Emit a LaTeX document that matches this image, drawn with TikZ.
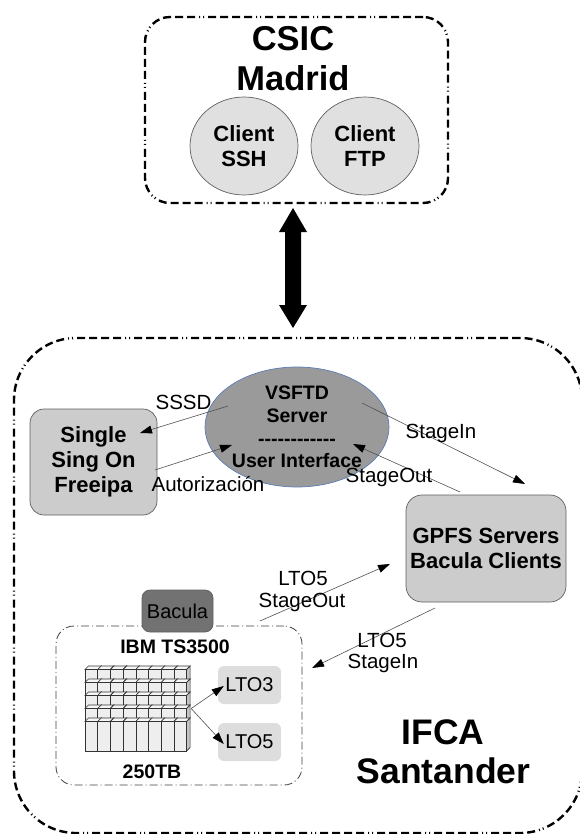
\documentclass[tikz,border=0pt]{standalone}
\usepackage{fontspec}
\setmainfont{Liberation Sans}
\usetikzlibrary{arrows.meta,calc,shapes.geometric}

\definecolor{clientfill}{HTML}{E0E0E0}
\definecolor{boxfill}{HTML}{CCCCCC}
\definecolor{serverfill}{HTML}{9A9A9A}
\definecolor{serveredge}{HTML}{5A7DB5}
\definecolor{baculafill}{HTML}{727272}
\definecolor{ltofill}{HTML}{DDDDDD}
\definecolor{edgegray}{HTML}{5F5F5F}
\definecolor{linegray}{HTML}{505050}
\definecolor{tapefront}{HTML}{EEEEEE}
\definecolor{tapetop}{HTML}{F6F6F6}
\definecolor{tapeside}{HTML}{C4C4C4}

% a hyphen that never merges into an en or em dash
\newcommand\hy{-\kern0pt}

\tikzset{
  regionbox/.style={draw=black, line width=2.4pt, rounded corners=#1,
    dash pattern=on 8pt off 4pt on 8pt off 4pt on 8pt off 4pt on 8pt off 4pt on 1pt off 3pt on 1pt off 4pt,
    inner sep=0pt},
  devicebox/.style={draw=black!75, line width=0.8pt, rounded corners=18pt,
    dash pattern=on 8pt off 3pt on 1pt off 3pt, inner sep=0pt},
  clientell/.style={ellipse, draw=edgegray, line width=0.7pt, fill=clientfill, inner sep=0pt,
    minimum width=108pt, minimum height=98pt, align=center,
    font=\bfseries\fontsize{22}{25}\selectfont},
  greybox/.style={draw=edgegray, line width=0.7pt, fill=boxfill, rounded corners=16pt,
    inner sep=0pt, align=center, font=\bfseries\fontsize{22}{25}\selectfont},
  serverell/.style={ellipse, draw=serveredge, line width=0.7pt, fill=serverfill, inner sep=0pt,
    minimum width=168pt, minimum height=120pt, align=center,
    font=\bfseries\fontsize{19.5}{22.7}\selectfont},
  ltobox/.style={fill=ltofill, rounded corners=6pt, inner sep=0pt,
    minimum width=63pt, minimum height=38pt, font=\fontsize{20}{24}\selectfont},
  title/.style={anchor=base, inner sep=0pt, font=\bfseries\fontsize{34.5}{40}\selectfont},
  subtitle/.style={anchor=base, inner sep=0pt, font=\bfseries\fontsize{19.5}{23}\selectfont},
  flowlabel/.style={anchor=base, inner sep=0pt, font=\fontsize{20.5}{23}\selectfont},
  conn/.style={draw=linegray, line width=0.6pt,
    -{Triangle[length=12pt,width=8pt,color=black]}},
  cellfront/.style={fill=tapefront, draw=black!80, line width=0.6pt},
  celltop/.style={fill=tapetop, draw=black!80, line width=0.6pt},
  cellside/.style={fill=tapeside, draw=black!80, line width=0.6pt},
}

\begin{document}
\begin{tikzpicture}[x=1pt, y=-1pt]
\useasboundingbox (0,0) rectangle (580,834);

% ---------- CSIC Madrid ----------
\node[regionbox=25pt, minimum width=303pt, minimum height=186pt] (csic) at (296.5,110) {};
\node[title] (csic-name) at (293,51) {CSIC};
\node[title] (csic-city) at (293,91) {Madrid};
\node[clientell] (ssh) at (244,146) {Client\\SSH};
\node[clientell] (ftp) at (365,146) {Client\\FTP};

% ---------- IFCA Santander ----------
\node[regionbox=62pt, minimum width=568pt, minimum height=495pt] (ifca) at (298,585.5) {};
\node[title, font=\bfseries\fontsize{35.5}{40}\selectfont] (ifca-name) at (443,744) {IFCA};
\node[title, font=\bfseries\fontsize{35.5}{40}\selectfont] (ifca-city) at (443.5,783) {Santander};

% link between both sites
\coordinate (link-top) at (293,208);
\coordinate (link-bot) at (293,328);
\fill[black] (link-top) -- ++(14,24) -- ++(-6,0) -- ($(link-bot)+(8,-23)$) -- ++(6,0)
  -- (link-bot) -- ++(-14,-23) -- ++(6,0) -- ($(link-top)+(-8,24)$) -- ++(-6,0) -- cycle;

% ---------- services ----------
\node[greybox, minimum width=127pt, minimum height=106pt, rounded corners=14pt] (sso) at (93.5,462)
  {Single\\Sing On\\Freeipa};
\node[serverell] (vsftd) at (297,427)
  {VSFTD\\Server\\\hy\hy\hy\hy\hy\hy\hy\hy\hy\hy\hy\hy\\User Interface};
\node[greybox, minimum width=160pt, minimum height=107pt] (gpfs) at (486,548.5)
  {GPFS Servers\\Bacula Clients};

% ---------- tape library ----------
\node[devicebox, minimum width=246pt, minimum height=159pt] (ibm) at (179,705.5) {};
\node[draw=edgegray, line width=0.7pt, fill=baculafill, rounded corners=8pt, inner sep=0pt,
  minimum width=71pt, minimum height=42pt, font=\fontsize{20}{24}\selectfont] (bacula) at (177.5,611) {Bacula};
\node[subtitle] (ibm-name) at (175,653) {IBM TS3500};
\node[subtitle] (ibm-size) at (152,778) {250TB};

\node[inner sep=0pt, minimum width=106pt, minimum height=85pt] (lib) at (138,708.5) {};
\foreach \t/\b in {669.5/682.5, 682.5/695.5, 695.5/708.5, 708.5/721.5, 721.5/751} {
  \foreach \i in {0,...,7} {
    \pgfmathsetmacro\x{85+\i*12.7}
    \path[celltop] (\x,\t) -- (\x+3.5,\t-3.5) -- (\x+16.2,\t-3.5) -- (\x+12.7,\t) -- cycle;
    \path[cellside] (\x+12.7,\t) -- (\x+16.2,\t-3.5) -- (\x+16.2,\b-3.5) -- (\x+12.7,\b) -- cycle;
    \path[cellfront] (\x,\t) rectangle (\x+12.7,\b);
  }
}

\node[ltobox] (lto3) at (249.5,685) {LTO3};
\node[ltobox] (lto5) at (249.5,742) {LTO5};
\draw[conn] (lib.east) -- ($(lto3.west)+(6,1)$);
\draw[conn] (lib.east) -- ($(lto5.west)+(6,2)$);

% ---------- data flows ----------
\coordinate (sssd-a) at (228,406);   \coordinate (sssd-b) at (140,433);
\coordinate (auth-a) at (155,470);   \coordinate (auth-b) at (232,445);
\coordinate (in-a) at (362,403);     \coordinate (in-b) at (525,484);
\coordinate (out-a) at (460,492);    \coordinate (out-b) at (353,444);
\coordinate (tout-a) at (260,621);   \coordinate (tout-b) at (390,564);
\coordinate (tin-a) at (435,608);    \coordinate (tin-b) at (312,668);

\draw[conn] (sssd-a) -- (sssd-b);
\draw[conn] (auth-a) -- (auth-b);
\draw[conn] (in-a) -- (in-b);
\draw[conn] (out-a) -- (out-b);
\draw[conn] (tout-a) -- (tout-b);
\draw[conn] (tin-a) -- (tin-b);

\node[flowlabel] (sssd-l) at (183.5,409) {SSSD};
\node[flowlabel] (auth-l) at (208,491) {Autorización};
\node[flowlabel] (in-l) at (441,438) {StageIn};
\node[flowlabel] (out-l) at (389,482.5) {StageOut};
\node[flowlabel] (tout-l1) at (303,585) {LTO5};
\node[flowlabel] (tout-l2) at (302,607) {StageOut};
\node[flowlabel] (tin-l1) at (382,647) {LTO5};
\node[flowlabel] (tin-l2) at (383,668) {StageIn};
\end{tikzpicture}
\end{document}
